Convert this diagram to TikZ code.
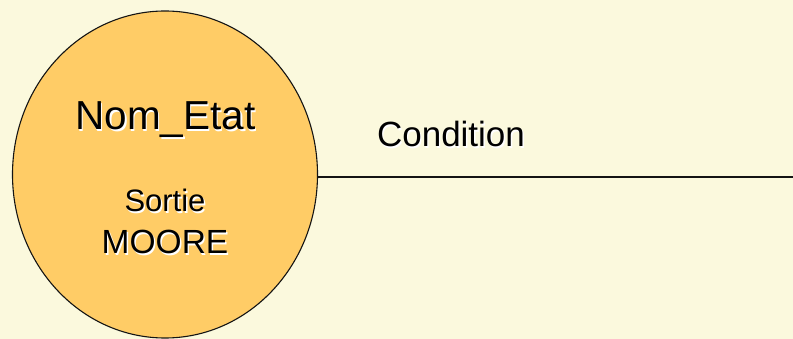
\documentclass[tikz,border=0pt]{standalone}
\usepackage{fontspec}
\setmainfont{Liberation Sans}
\usetikzlibrary{shapes.geometric,calc}
\definecolor{paper}{RGB}{251,249,221}
\definecolor{statefill}{RGB}{255,204,102}
\definecolor{ink}{RGB}{20,20,20}
\tikzset{
  statebox/.style={ellipse, draw=ink, line width=1.1pt, fill=statefill,
    minimum width=305pt, minimum height=327pt, inner sep=0pt},
  label/.style={anchor=base, inner sep=0pt, text=black},
  glow/.style={anchor=base, inner sep=0pt, text=white},
  wire/.style={draw=ink, line width=2pt}
}
\newcommand{\shadowtext}[4]{%
  % light offset copy under the black text
  \node[glow] at ($(#1)+(1.4,1.4)$) {\fontsize{#3}{#3}\selectfont #4};
  \node[label] (#2) at (#1) {\fontsize{#3}{#3}\selectfont #4};
}
\begin{document}
\begin{tikzpicture}[x=1pt,y=-1pt]
  % page and background
  \fill[paper] (0,0) rectangle (793,339);
  \useasboundingbox (0,0) rectangle (793,339);

  % the state
  \node[statebox] (state) at (165,174.5) {};

  % outgoing transition
  \coordinate (wireend) at (793,177);
  \draw[wire] (state.east |- wireend) -- (wireend);

  % texts
  \shadowtext{165.5,130}{name}{40.5}{Nom\_Etat}
  \shadowtext{165,212}{out1}{31}{Sortie}
  \shadowtext{165,254}{out2}{33.5}{MOORE}
  \shadowtext{451,147}{cond}{35}{Condition}
\end{tikzpicture}
\end{document}
